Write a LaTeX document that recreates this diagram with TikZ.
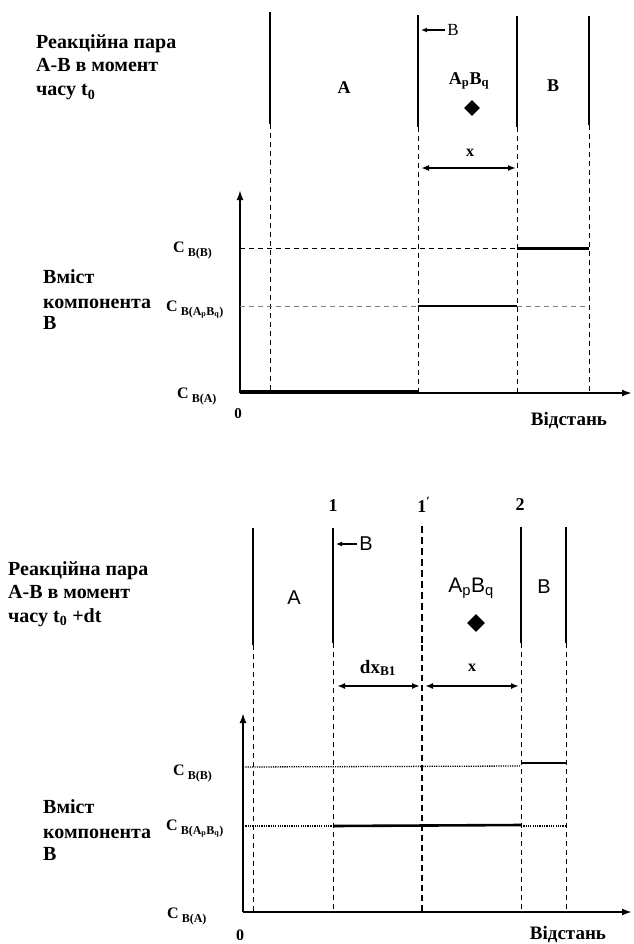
\documentclass[tikz,border=0pt]{standalone}
\usepackage{fontspec}
\setmainfont{Liberation Serif}
\newfontfamily\sansf{Liberation Sans}
\usetikzlibrary{arrows.meta,shapes.geometric}

% concentration label: C with a lowered subscript
\newcommand\conc[1]{{\fontsize{16}{16}\selectfont\bfseries C}\hspace{3pt}{\fontsize{12}{12}\selectfont\bfseries\raisebox{-4pt}{#1}}}

\begin{document}
\begin{tikzpicture}[x=1pt,y=-1pt,
  wall/.style={line width=2.2pt},
  guide/.style={line width=0.8pt, dash pattern=on 5pt off 4pt},
  dotline/.style={line width=1.3pt, dash pattern=on 1.2pt off 1.1pt},
  level/.style={line width=2pt},
  axisline/.style={line width=2pt, -{Latex[length=10pt,width=7pt]}},
  span/.style={line width=1.8pt, {Latex[length=8pt,width=6pt]}-{Latex[length=8pt,width=6pt]}},
  ttl/.style={font=\bfseries\fontsize{20}{22}\selectfont, anchor=base west, inner sep=0},
  cl/.style={anchor=base west, inner sep=0},
  bold/.style={font=\bfseries\fontsize{16}{16}\selectfont, inner sep=0},
  big/.style={font=\bfseries\fontsize{18}{18}\selectfont, inner sep=0},
  sans/.style={font=\sansf\fontsize{20}{20}\selectfont, inner sep=0},
  gem/.style={diamond, fill=black, inner sep=0, minimum size=#1}
]
\useasboundingbox (0,0) rectangle (633,944);

% ===================== moment t0 =====================
\node[ttl] (ta) at (36,49) {Реакційна пара};
\node[ttl] (tb) at (36,72) {А-В в момент};
\node[ttl] (tc) at (36,96) {часу t\textsubscript{0}};

% phase boundaries and their projections
\foreach \xa/\ya/\yb in {270/12/124, 418/15/127, 517/16/127, 589/16/125}{
  \draw[wall] (\xa,\ya) -- (\xa,\yb);
  \draw[guide] (\xa,\yb) -- (\xa,393);
}

\node[big] (pa) at (344,88) {A};
\node[font=\bfseries\fontsize{18}{18}\selectfont, inner sep=0] (pab) at (469,81) {A\textsubscript{p}B\textsubscript{q}};
\node[big] (pb) at (553,86) {B};
\node[gem=16pt] (d1) at (472,108) {};

\node[font=\fontsize{17}{17}\selectfont, inner sep=0] (fb) at (453,30) {B};
\coordinate (fbt) at (421,30);
\draw[line width=1.2pt, -{Latex[length=6pt,width=5pt]}] (fb.west) ++(-2pt,0) -- (fbt);

\coordinate (xa1) at (421,168);
\coordinate (xa2) at (516,168);
\draw[span] (xa1) -- (xa2);
\node[bold] (xl) at (470,153) {x};

% axes
\coordinate (o1) at (240,393);
\coordinate (y1) at (240,190);
\coordinate (x1) at (632,393);
\draw[axisline] (o1) -- (y1);
\draw[axisline] (o1) -- (x1);

% levels
\draw[guide] (240,248) -- (517,248);
\draw[line width=3pt] (517,248) -- (589,248);
\draw[guide, gray] (240,306) -- (418,306);
\draw[level] (418,306) -- (517,306);
\draw[guide, gray] (517,306) -- (589,306);
\draw[line width=3.4pt] (240,392) -- (418,392);

\node[cl] (c1) at (173,252) {\conc{B(B)}};
\node[cl] (c2) at (166,311) {\conc{B(A\textsubscript{p}B\textsubscript{q})}};
\node[cl] (c3) at (177,398) {\conc{B(A)}};
\node[font=\bfseries\fontsize{15}{15}\selectfont, inner sep=0] (z1) at (238,414) {0};
\node[font=\bfseries\fontsize{19}{19}\selectfont, inner sep=0] (d1l) at (569,421) {Відстань};

\node[ttl] (va) at (43,283) {Вміст};
\node[ttl] (vb) at (43,308) {компонента};
\node[ttl] (vc) at (43,329) {В};

% ===================== moment t0 + dt =====================
\node[ttl] (sa) at (8,575) {Реакційна пара};
\node[ttl] (sb) at (8,598) {А-В в момент};
\node[ttl] (sc) at (8,622) {часу t\textsubscript{0} +dt};

\foreach \xa/\ya/\yb in {253/528/645, 333/528/643, 521/527/643, 566/527/643}{
  \draw[wall] (\xa,\ya) -- (\xa,\yb);
  \draw[guide] (\xa,\yb) -- (\xa,912);
}
% shifted boundary 1'
\draw[line width=2.6pt, dash pattern=on 7pt off 4pt] (422,526) -- (422,645);
\draw[line width=1.1pt, dash pattern=on 6pt off 4pt] (422,645) -- (422,912);

\node[big] (n1) at (333,506) {1};
\node[big] (n1p) at (424,505) {1\textsuperscript{′}};
\node[big] (n2) at (520,505) {2};

\node[sans] (qa) at (294,598) {A};
\node[font=\sansf\fontsize{21}{21}\selectfont, inner sep=0] (qab) at (471,588) {A\textsubscript{p}B\textsubscript{q}};
\node[sans] (qb) at (544,587) {B};
\node[gem=18pt] (d2) at (476,623) {};

\node[sans] (gb) at (366,544) {B};
\coordinate (gbt) at (336,544);
\draw[line width=1.2pt, -{Latex[length=6pt,width=5pt]}] (gb.west) ++(-2pt,0) -- (gbt);

\coordinate (da1) at (337,686);
\coordinate (da2) at (420,686);
\draw[span] (da1) -- (da2);
\node[font=\bfseries\fontsize{19}{19}\selectfont, inner sep=0] (dl) at (378,668) {dx\textsubscript{B1}};
\coordinate (xb1) at (425,686);
\coordinate (xb2) at (519,686);
\draw[span] (xb1) -- (xb2);
\node[bold] (xl2) at (472,668) {x};

\coordinate (o2) at (243,912);
\coordinate (y2) at (243,713);
\coordinate (x2) at (632,912);
\draw[axisline, line width=2.6pt] (o2) -- (y2);
\draw[axisline] (o2) -- (x2);

\draw[dotline] (243,767) -- (521,766);
\draw[level] (521,763) -- (566,763);
\draw[dotline] (243,826) -- (333,826);
\draw[line width=2.6pt] (333,826) -- (521,825);
\draw[dotline] (521,826) -- (566,826);

\node[cl] (e1) at (173,775) {\conc{B(B)}};
\node[cl] (e2) at (166,830) {\conc{B(A\textsubscript{p}B\textsubscript{q})}};
\node[cl] (e3) at (167,918) {\conc{B(A)}};
\node[font=\bfseries\fontsize{16}{16}\selectfont, inner sep=0] (z2) at (240,935) {0};
\node[font=\bfseries\fontsize{19}{19}\selectfont, inner sep=0] (d2l) at (568,935) {Відстань};

\node[ttl] (wa) at (43,813) {Вміст};
\node[ttl] (wb) at (43,838) {компонента};
\node[ttl] (wc) at (43,860) {В};
\end{tikzpicture}
\end{document}
